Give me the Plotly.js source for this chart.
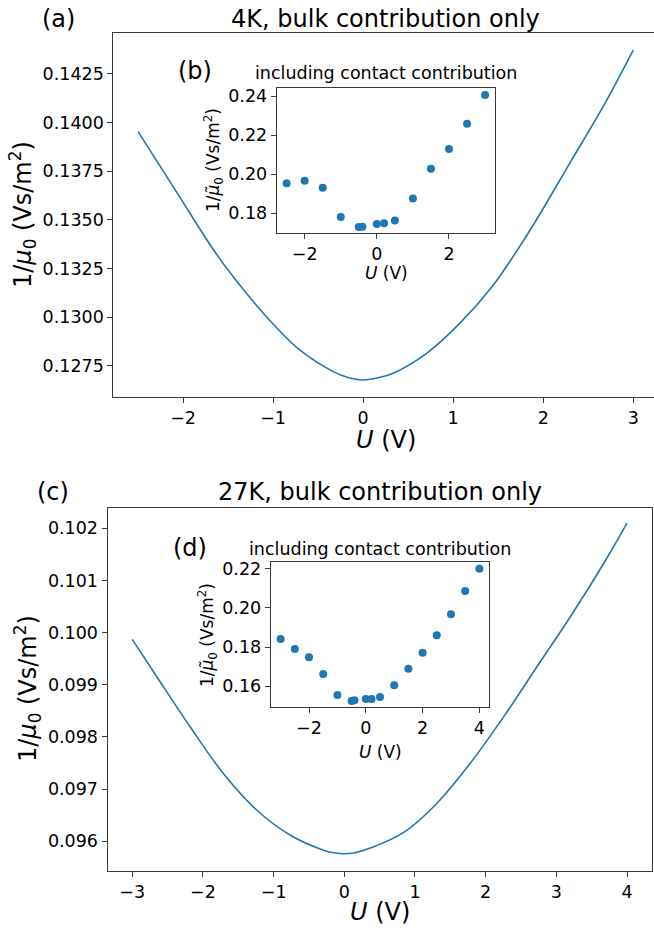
<!DOCTYPE html>
<html>
<head>
<meta charset="utf-8">
<script src="https://cdn.plot.ly/plotly-3.0.1.min.js"></script>
<style>html,body{margin:0;padding:0;overflow:hidden;background:#fff}</style>
</head>
<body>
<div id="chart"></div>
<script>
// Panel (a): 4K bulk contribution only (curve)
const uA = [-2.5, -2.04, -1.67, -1.445, -1.074, -0.704, -0.333, -0.167, 0, 0.167, 0.334, 0.705, 1.075, 1.445, 1.705, 1.924, 2.294, 2.665, 3.0];
const invMuA = [0.13954, 0.13620, 0.13352, 0.13209, 0.13003, 0.12832, 0.12721, 0.12691, 0.12678, 0.12689, 0.12713, 0.12815, 0.12970, 0.13165, 0.13340, 0.13500, 0.13791, 0.14082, 0.14373];
// Panel (b): 4K including contact contribution (points)
const uB = [-2.5, -2, -1.5, -1, -0.5, -0.4, 0, 0.2, 0.5, 1, 1.5, 2, 2.5, 3];
const invMuB = [0.1952, 0.1966, 0.1930, 0.1780, 0.1728, 0.1730, 0.1744, 0.1747, 0.1761, 0.1875, 0.2027, 0.2128, 0.2258, 0.2405];
// Panel (c): 27K bulk contribution only (curve)
const uC = [-3.0, -2.655, -2.184, -1.711, -1.24, -0.768, -0.296, -0.15, 0, 0.15, 0.369, 0.841, 1.312, 1.784, 2.256, 2.727, 3.2, 3.671, 4.0];
const invMuC = [0.09987, 0.09916, 0.09820, 0.09730, 0.09660, 0.09612, 0.09583, 0.09578, 0.09576, 0.09578, 0.09587, 0.09617, 0.09673, 0.09750, 0.09839, 0.09935, 0.10031, 0.10133, 0.10210];
// Panel (d): 27K including contact contribution (points)
const uD = [-3, -2.5, -2, -1.5, -1, -0.5, -0.4, 0, 0.2, 0.5, 1, 1.5, 2, 2.5, 3, 3.5, 4];
const invMuD = [0.1841, 0.1790, 0.1749, 0.1663, 0.1556, 0.1525, 0.1529, 0.1535, 0.1535, 0.1546, 0.1605, 0.1690, 0.1771, 0.1861, 0.1968, 0.2087, 0.2200];

const ticksA = [0.1275, 0.1300, 0.1325, 0.1350, 0.1375, 0.1400, 0.1425];
const ticksB = [0.18, 0.20, 0.22, 0.24];
const ticksC = [0.096, 0.097, 0.098, 0.099, 0.100, 0.101, 0.102];
const ticksD = [0.16, 0.18, 0.20, 0.22];
const xticksA = [-2, -1, 0, 1, 2, 3];
const xticksB = [-2, 0, 2];
const xticksC = [-3, -2, -1, 0, 1, 2, 3, 4];
const xticksD = [-2, 0, 2, 4];

const W = 660, H = 929;
const FONT = 'DejaVu Sans';
const BLUE = '#1f77b4';
const SPINE = '#3a3a3a';
const px = v => v / W;
const py = v => 1 - v / H;

const traces = [
  {x: uA, y: invMuA, type: 'scatter', mode: 'lines', line: {color: BLUE, width: 1.6, shape: 'spline', smoothing: 1.0}, xaxis: 'x', yaxis: 'y', hoverinfo: 'skip'},
  {x: uB, y: invMuB, type: 'scatter', mode: 'markers', marker: {color: BLUE, size: 8}, xaxis: 'x2', yaxis: 'y2', hoverinfo: 'skip'},
  {x: uC, y: invMuC, type: 'scatter', mode: 'lines', line: {color: BLUE, width: 1.6, shape: 'spline', smoothing: 1.0}, xaxis: 'x3', yaxis: 'y3', hoverinfo: 'skip'},
  {x: uD, y: invMuD, type: 'scatter', mode: 'markers', marker: {color: BLUE, size: 8}, xaxis: 'x4', yaxis: 'y4', hoverinfo: 'skip'}
];

function xax(domain, range, tickvals, anchor, size) {
  return {domain: domain, range: range, tickmode: 'array', tickvals: tickvals, ticks: 'outside', ticklen: 5, tickwidth: 1,
    tickcolor: SPINE, showline: true, linecolor: SPINE, linewidth: 1, mirror: true, showgrid: false, zeroline: false,
    anchor: anchor, tickfont: {family: FONT, size: size, color: '#000'}, fixedrange: true};
}
function yax(domain, range, tickvals, anchor, size, fmt) {
  return {domain: domain, range: range, tickmode: 'array', tickvals: tickvals, tickformat: fmt, ticks: 'outside', ticklen: 5, tickwidth: 1,
    tickcolor: SPINE, showline: true, linecolor: SPINE, linewidth: 1, mirror: true, showgrid: false, zeroline: false,
    anchor: anchor, tickfont: {family: FONT, size: size, color: '#000'}, fixedrange: true};
}

function ann(text, x, y, size, angle) {
  return {text: text, x: px(x), y: py(y), xref: 'paper', yref: 'paper', xanchor: 'center', yanchor: 'middle',
    showarrow: false, textangle: angle || 0, font: {family: FONT, size: size, color: '#000'}};
}

const yTitleMain = '1/<i>μ</i><sub>0</sub> (Vs/m<sup>2</sup>)';
const yTitleInset = '1/<i>μ̃</i><sub>0</sub> (Vs/m<sup>2</sup>)';
const xTitle = '<i>U</i> (V)';

const layout = {
  width: W, height: H,
  margin: {l: 0, r: 0, t: 0, b: 0},
  paper_bgcolor: '#fff', plot_bgcolor: '#fff',
  showlegend: false,
  xaxis: xax([px(113.3), px(658)], [-2.775, 3.275], xticksA, 'y', 17.5),
  yaxis: yax([py(396.7), py(33.3)], [0.12592, 0.14459], ticksA, 'x', 17.5, '.4f'),
  xaxis2: xax([px(276.7), px(495)], [-2.775, 3.275], xticksB, 'y2', 17.5),
  yaxis2: yax([py(233.3), py(88.3)], [0.16959, 0.24395], ticksB, 'x2', 17.5, '.2f'),
  xaxis3: xax([px(107.5), px(651.8)], [-3.35, 4.35], xticksC, 'y3', 17.5),
  yaxis3: yax([py(870.7), py(507.7)], [0.095436, 0.102395], ticksC, 'x3', 17.5, '.3f'),
  xaxis4: xax([px(270.7), px(489.3)], [-3.35, 4.35], xticksD, 'y4', 17.5),
  yaxis4: yax([py(707.3), py(562.3)], [0.1493, 0.2233], ticksD, 'x4', 17.5, '.2f'),
  annotations: [
    ann('(a)', 58.7, 18.5, 24),
    ann('4K, bulk contribution only', 385.6, 18.5, 24),
    ann(yTitleMain, 23, 215, 24, -90),
    ann(xTitle, 386, 440, 24),
    ann('(b)', 195, 71, 24),
    ann('including contact contribution', 385.9, 73, 17.5),
    ann(yTitleInset, 213, 160, 17, -90),
    ann(xTitle, 386, 273, 17),
    ann('(c)', 53, 492, 24),
    ann('27K, bulk contribution only', 379.6, 492, 24),
    ann(yTitleMain, 27, 689, 24, -90),
    ann(xTitle, 380, 912, 24),
    ann('(d)', 189.6, 547.5, 24),
    ann('including contact contribution', 380, 548.5, 17.5),
    ann(yTitleInset, 207, 635, 17, -90),
    ann(xTitle, 380, 752, 17)
  ]
};

Plotly.newPlot('chart', traces, layout, {displayModeBar: false, staticPlot: true});
</script>
</body>
</html>
